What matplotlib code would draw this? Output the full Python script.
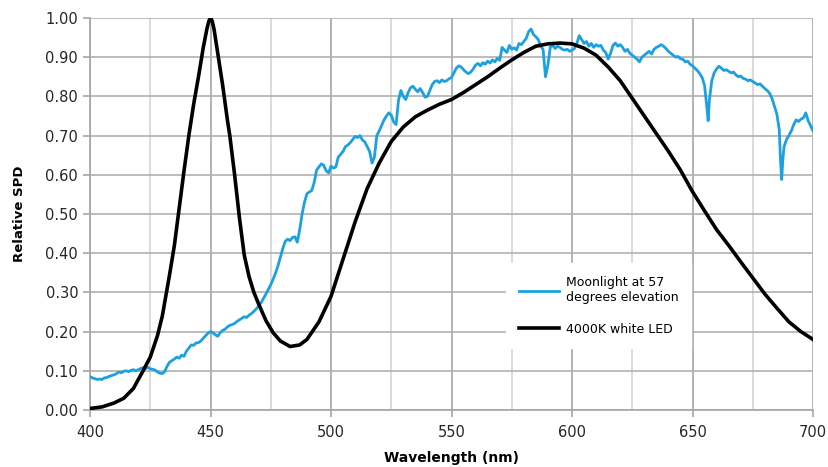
import matplotlib
matplotlib.use('Agg', force=True)
import matplotlib.pyplot as plt
from matplotlib.ticker import MultipleLocator

plt.rcParams['font.family'] = ['DejaVu Sans']

# ---------- data ----------
led_nm = [400, 405, 410, 414, 418, 422, 425, 428, 430, 433, 435, 439, 441, 443, 445, 447,
          448.5, 449.3, 450, 450.7, 451.5, 453, 455, 457, 458, 460, 462, 464, 466, 468,
          470, 473, 476, 479, 483, 487, 490, 495, 500, 505, 510, 515, 520, 525, 530, 535,
          540, 545, 550, 555, 560, 565, 570, 575, 580, 585, 590, 595, 600, 605, 610, 615,
          620, 625, 630, 635, 640, 645, 650, 655, 660, 665, 670, 675, 680, 685, 690, 695,
          700]
led_spd = [0.004, 0.008, 0.018, 0.030, 0.055, 0.100, 0.135, 0.190, 0.240, 0.345, 0.420,
           0.610, 0.700, 0.780, 0.850, 0.925, 0.972, 0.992, 1.000, 0.992, 0.970, 0.910,
           0.830, 0.740, 0.700, 0.600, 0.490, 0.395, 0.340, 0.300, 0.270, 0.228, 0.197,
           0.176, 0.162, 0.166, 0.180, 0.225, 0.290, 0.385, 0.480, 0.565, 0.630, 0.685,
           0.722, 0.748, 0.765, 0.780, 0.792, 0.810, 0.830, 0.850, 0.872, 0.893, 0.912,
           0.928, 0.934, 0.936, 0.934, 0.923, 0.905, 0.875, 0.840, 0.795, 0.750, 0.705,
           0.660, 0.612, 0.557, 0.508, 0.460, 0.420, 0.378, 0.337, 0.296, 0.260, 0.225,
           0.200, 0.180]

moon_nm = [400, 401, 402, 403, 404, 405, 406, 407, 408, 409, 410, 411, 412, 413, 414, 415,
           416, 417, 418, 419, 420, 421, 422, 423, 424, 425, 426, 427, 428, 429, 430, 431,
           432, 433, 434, 435, 436, 437, 438, 439, 440, 441, 442, 443, 444, 445, 446, 447,
           448, 449, 450, 451, 452, 453, 454, 455, 456, 457, 458, 459, 460, 461, 462, 463,
           464, 465, 466, 467, 468, 469, 470, 471, 472, 473, 474, 475, 476, 477, 478, 479,
           480, 481, 482, 483, 484, 485, 486, 487, 488, 489, 490, 491, 492, 493, 494, 495,
           496, 497, 498, 499, 500, 501, 502, 503, 504, 505, 506, 507, 508, 509, 510, 511,
           512, 513, 514, 515, 516, 517, 518, 519, 520, 521, 522, 523, 524, 525, 526, 527,
           528, 529, 530, 531, 532, 533, 534, 535, 536, 537, 538, 539, 540, 541, 542, 543,
           544, 545, 546, 547, 548, 549, 550, 551, 552, 553, 554, 555, 556, 557, 558, 559,
           560, 561, 562, 563, 564, 565, 566, 567, 568, 569, 570, 571, 572, 573, 574, 575,
           576, 577, 578, 579, 580, 581, 582, 583, 584, 585, 586, 587, 588, 589, 590, 591,
           592, 593, 594, 595, 596, 597, 598, 599, 600, 601, 602, 603, 604, 605, 606, 607,
           608, 609, 610, 611, 612, 613, 614, 615, 616, 617, 618, 619, 620, 621, 622, 623,
           624, 625, 626, 627, 628, 629, 630, 631, 632, 633, 634, 635, 636, 637, 638, 639,
           640, 641, 642, 643, 644, 645, 646, 647, 648, 649, 650, 651, 652, 653, 654, 655,
           656, 656.5, 657, 658, 659, 660, 661, 662, 663, 664, 665, 666, 667, 668, 669, 670,
           671, 672, 673, 674, 675, 676, 677, 678, 679, 680, 681, 682, 683, 684, 685, 686,
           686.5, 687, 687.5, 688, 689, 690, 691, 692, 693, 694, 695, 696, 697, 698, 699, 700]
moon_spd = [0.085, 0.082, 0.080, 0.078, 0.079, 0.078, 0.082, 0.083, 0.086, 0.088, 0.090,
            0.093, 0.097, 0.095, 0.099, 0.100, 0.098, 0.101, 0.103, 0.100, 0.103, 0.106,
            0.108, 0.106, 0.109, 0.105, 0.104, 0.102, 0.097, 0.094, 0.093, 0.098, 0.112,
            0.122, 0.126, 0.130, 0.135, 0.132, 0.140, 0.137, 0.150, 0.158, 0.166, 0.165,
            0.171, 0.172, 0.176, 0.183, 0.190, 0.196, 0.200, 0.197, 0.192, 0.188, 0.197,
            0.203, 0.206, 0.212, 0.216, 0.218, 0.221, 0.226, 0.230, 0.234, 0.238, 0.236,
            0.242, 0.246, 0.252, 0.258, 0.266, 0.274, 0.285, 0.296, 0.308, 0.320, 0.334,
            0.350, 0.368, 0.390, 0.412, 0.430, 0.436, 0.432, 0.440, 0.442, 0.428, 0.460,
            0.500, 0.530, 0.552, 0.556, 0.560, 0.580, 0.612, 0.620, 0.628, 0.624, 0.610,
            0.605, 0.622, 0.617, 0.620, 0.645, 0.652, 0.660, 0.672, 0.676, 0.682, 0.690,
            0.698, 0.695, 0.700, 0.689, 0.684, 0.672, 0.660, 0.630, 0.645, 0.700, 0.712,
            0.726, 0.740, 0.750, 0.758, 0.752, 0.735, 0.728, 0.790, 0.815, 0.800, 0.792,
            0.810, 0.822, 0.826, 0.818, 0.812, 0.820, 0.810, 0.798, 0.800, 0.815, 0.830,
            0.838, 0.840, 0.835, 0.842, 0.838, 0.840, 0.845, 0.848, 0.860, 0.872, 0.878,
            0.875, 0.868, 0.862, 0.858, 0.862, 0.870, 0.880, 0.884, 0.878, 0.886, 0.882,
            0.890, 0.885, 0.893, 0.888, 0.897, 0.892, 0.925, 0.918, 0.912, 0.930, 0.920,
            0.924, 0.918, 0.935, 0.932, 0.940, 0.948, 0.965, 0.972, 0.958, 0.952, 0.945,
            0.928, 0.920, 0.850, 0.880, 0.926, 0.930, 0.922, 0.928, 0.925, 0.920, 0.918,
            0.920, 0.915, 0.918, 0.922, 0.935, 0.955, 0.945, 0.935, 0.940, 0.928, 0.935,
            0.925, 0.932, 0.928, 0.930, 0.918, 0.912, 0.895, 0.910, 0.930, 0.936, 0.928,
            0.932, 0.925, 0.915, 0.920, 0.910, 0.905, 0.900, 0.895, 0.888, 0.900, 0.905,
            0.910, 0.915, 0.908, 0.920, 0.925, 0.928, 0.932, 0.928, 0.922, 0.915, 0.910,
            0.905, 0.900, 0.902, 0.896, 0.895, 0.888, 0.890, 0.882, 0.878, 0.872, 0.866,
            0.858, 0.848, 0.828, 0.770, 0.738, 0.790, 0.840, 0.860, 0.870, 0.877, 0.872,
            0.866, 0.868, 0.864, 0.860, 0.862, 0.855, 0.850, 0.852, 0.846, 0.844, 0.840,
            0.842, 0.838, 0.834, 0.830, 0.832, 0.826, 0.820, 0.815, 0.808, 0.795, 0.775,
            0.755, 0.715, 0.640, 0.588, 0.640, 0.672, 0.690, 0.700, 0.712, 0.728, 0.740,
            0.736, 0.742, 0.745, 0.758, 0.738, 0.725, 0.712]

# ---------- figure ----------
fig = plt.figure(figsize=(8.29, 4.67), dpi=100)
ax = fig.add_axes([0.1086, 0.122, 0.8721, 0.8395])

ax.plot(moon_nm, moon_spd, color='#1ba1e2', lw=2.0, label='Moonlight at 57\ndegrees elevation', zorder=3)
ax.plot(led_nm, led_spd, color='black', lw=2.6, label='4000K white LED', zorder=4,
        solid_joinstyle='round')

ax.set_xlim(400, 700)
ax.set_ylim(0, 1.0)
ax.xaxis.set_major_locator(MultipleLocator(50))
ax.xaxis.set_minor_locator(MultipleLocator(25))
ax.yaxis.set_major_locator(MultipleLocator(0.1))
ax.yaxis.set_major_formatter(plt.FuncFormatter(lambda v, p: f'{v:.2f}'))

ax.grid(which='major', axis='x', color='#a6a6a6', lw=1.2)
ax.grid(which='minor', axis='x', color='#d4d4d4', lw=1.2)
ax.grid(which='major', axis='y', color='#b0b0b0', lw=1.2)
ax.set_axisbelow(True)

for s in ['top', 'right']:
    ax.spines[s].set_visible(False)
for s in ['left', 'bottom']:
    ax.spines[s].set_color('#a6a6a6')
    ax.spines[s].set_linewidth(1.2)

ax.tick_params(which='major', length=5, width=1.2, color='#a6a6a6', labelsize=10.5,
               labelcolor='#262626')
ax.tick_params(which='minor', length=0)
ax.tick_params(axis='x', pad=6)

ax.set_xlabel('Wavelength (nm)', fontsize=10, fontweight='bold', labelpad=8)
ax.set_ylabel('Relative SPD', fontsize=9.5, fontweight='bold', labelpad=14)

leg = ax.legend(loc='upper left', bbox_to_anchor=(0.567, 0.39), frameon=True,
                fontsize=9, labelspacing=1.5, handlelength=3.2, handletextpad=0.6,
                borderpad=1.0, fancybox=False)
leg.get_frame().set_facecolor('white')
leg.get_frame().set_edgecolor('white')
leg.get_frame().set_alpha(1.0)

fig.savefig('out.png', dpi=100)
